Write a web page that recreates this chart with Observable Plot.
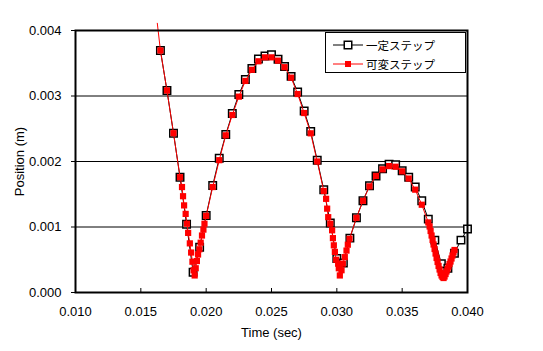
<!DOCTYPE html>
<html><head><meta charset="utf-8">
<script src="https://cdn.jsdelivr.net/npm/d3@7"></script>
<script src="https://cdn.jsdelivr.net/npm/@observablehq/plot@0.6"></script>
<style>
body{margin:0;background:#fff;}
#wrap{position:relative;width:543px;height:351px;font-family:"Liberation Sans",Arial,"Noto Sans CJK JP",sans-serif;background:#fff;}
#legend{position:absolute;left:325px;top:32px;width:141px;height:41px;border:1px solid #000;background:#fff;box-sizing:border-box;}
.row{position:absolute;left:0;height:16px;display:flex;align-items:center;font-family:"Noto Sans CJK JP",sans-serif;font-size:11.5px;color:#000;}
.row svg{margin-left:7px;margin-right:3px;}
</style></head><body><div id="wrap"></div>
<script>
// 一定ステップ (constant step)
const constT = [0.0165,0.017,0.0175,0.018,0.0185,0.019,0.0195,0.020,0.0205,0.021,0.0215,0.022,0.0225,0.023,0.0235,0.024,0.0245,0.025,0.0255,0.026,0.0265,0.027,0.0275,0.028,0.0285,0.029,0.0295,0.030,0.0305,0.031,0.0315,0.032,0.0325,0.033,0.0335,0.034,0.0345,0.035,0.0355,0.036,0.0365,0.037,0.0375,0.038,0.0385,0.039,0.0395,0.040];
const constY = [0.003695,0.003084,0.002432,0.00176,0.001043,0.00031,0.000692,0.001176,0.001634,0.00205,0.002412,0.002733,0.003023,0.003252,0.00342,0.003565,0.00361,0.00363,0.00356,0.00345,0.0033,0.00306,0.00277,0.00246,0.00202,0.00157,0.00106,0.00052,0.00045,0.00083,0.00114,0.0014,0.00163,0.00178,0.00189,0.00196,0.00195,0.00186,0.00176,0.00161,0.0014,0.00112,0.0008,0.00044,0.00037,0.0006,0.0008,0.00097];
// 可変ステップ (variable step)
const varT = [0.01626,0.0165,0.017,0.0175,0.018,0.01815,0.01823,0.01831,0.01843,0.01853,0.01862,0.01875,0.01885,0.01895,0.01904,0.01912,0.0192,0.01929,0.01938,0.01948,0.01958,0.01968,0.01979,0.01987,0.020,0.0205,0.021,0.0215,0.022,0.0225,0.023,0.0235,0.024,0.0245,0.025,0.0255,0.026,0.0265,0.027,0.0275,0.028,0.0285,0.029,0.02918,0.02926,0.02934,0.0295,0.02964,0.0297,0.02977,0.02985,0.02995,0.0301,0.03015,0.03023,0.03036,0.03046,0.03061,0.03074,0.03084,0.03097,0.0315,0.032,0.0325,0.033,0.0335,0.034,0.0345,0.035,0.0355,0.036,0.0365,0.037,0.0371,0.037176,0.037252,0.037328,0.037405,0.037481,0.037557,0.037634,0.03771,0.037786,0.037863,0.037939,0.038015,0.038092,0.038168,0.038244,0.038321,0.038397,0.038473,0.03855,0.038626,0.038702,0.038779,0.038855,0.038931,0.039008];
const varY = [0.00411,0.003695,0.003084,0.002432,0.00176,0.00161,0.00147,0.00133,0.0012,0.00105,0.00091,0.00075,0.00061,0.00047,0.00034,0.00026,0.00037,0.00048,0.00058,0.00066,0.00076,0.00087,0.00096,0.00105,0.00117,0.00161,0.00202,0.0024,0.00271,0.00299,0.00323,0.0034,0.00353,0.00359,0.00359,0.00354,0.00344,0.00328,0.00303,0.00274,0.00243,0.002,0.00155,0.00143,0.00128,0.00115,0.00105,0.00095,0.00083,0.00072,0.00062,0.0005,0.00044,0.00037,0.00026,0.00034,0.00044,0.00054,0.00064,0.00073,0.00082,0.00114,0.0014,0.00162,0.00178,0.00188,0.00193,0.00192,0.00185,0.00174,0.00157,0.00134,0.00107,0.001008,0.000939,0.00087,0.000802,0.000733,0.000664,0.000595,0.000527,0.000466,0.000405,0.000351,0.000298,0.00026,0.000237,0.000221,0.000244,0.000282,0.000321,0.000359,0.000397,0.000435,0.000473,0.000519,0.000565,0.000611,0.000649];
const xTicks = [0.010,0.015,0.020,0.025,0.030,0.035,0.040];
const yTicks = [0.000,0.001,0.002,0.003,0.004];
const seriesNames = ["一定ステップ","可変ステップ"];
const xTitle = "Time (sec)";
const yTitle = "Position (m)";

const cons = constT.map((t,i)=>({t, y: constY[i]}));
const vari = varT.map((t,i)=>({t, y: varY[i]}));
const fmt = d3.format(".3f");

const chart = Plot.plot({
  width:543, height:351,
  marginLeft:75, marginRight:76, marginTop:30, marginBottom:59,
  style:{fontFamily:'"Liberation Sans", Arial, sans-serif', fontSize:"13px", background:"#fff", color:"#000", overflow:"visible"},
  x:{domain:[0.010,0.040]},
  y:{domain:[0,0.004]},
  marks:[
    Plot.gridY(yTicks, {stroke:"#000", strokeOpacity:1, strokeWidth:1}),
    Plot.line(cons, {x:"t", y:"y", stroke:"#000", strokeWidth:1}),
    Plot.dot(cons, {x:"t", y:"y", symbol:"square", r:4.2, fill:"#fff", stroke:"#000", strokeWidth:1.5}),
    Plot.line(vari, {x:"t", y:"y", stroke:"#ff0000", strokeWidth:1}),
    Plot.dot(vari.filter(d=>d.y<=0.004), {x:"t", y:"y", symbol:"square", r:3.5, fill:"#ff0000", stroke:"none"}),
    Plot.frame({stroke:"#000", strokeWidth:2}),
    Plot.axisY(yTicks, {tickSize:4, tickPadding:10, tickFormat:fmt, label:yTitle, labelAnchor:"center", labelArrow:"none", labelOffset:61}),
    Plot.axisX(xTicks, {tickSize:0, tickPadding:14, tickFormat:fmt, label:xTitle, labelAnchor:"center", labelArrow:"none", labelOffset:44}),
    Plot.axisX(xTicks, {tickSize:4, dy:-4, tickFormat:()=>"", label:null})
  ]
});
const wrap = document.getElementById("wrap");
wrap.appendChild(chart);

const legend = document.createElement("div");
legend.id = "legend";
const syms = [
  '<svg width="30" height="10"><line x1="0" y1="5" x2="30" y2="5" stroke="#000" stroke-width="1"/><rect x="11.25" y="1.25" width="7.5" height="7.5" fill="#fff" stroke="#000" stroke-width="1.5"/></svg>',
  '<svg width="30" height="10"><line x1="0" y1="5" x2="30" y2="5" stroke="#ff0000" stroke-width="1"/><rect x="12" y="2" width="6" height="6" fill="#ff0000"/></svg>'
];
seriesNames.forEach((name,i)=>{
  const r = document.createElement("div");
  r.className = "row";
  r.style.top = (i===0 ? 4 : 23) + "px";
  r.innerHTML = syms[i] + "<span>" + name + "</span>";
  legend.appendChild(r);
});
wrap.appendChild(legend);
</script>
</body></html>
